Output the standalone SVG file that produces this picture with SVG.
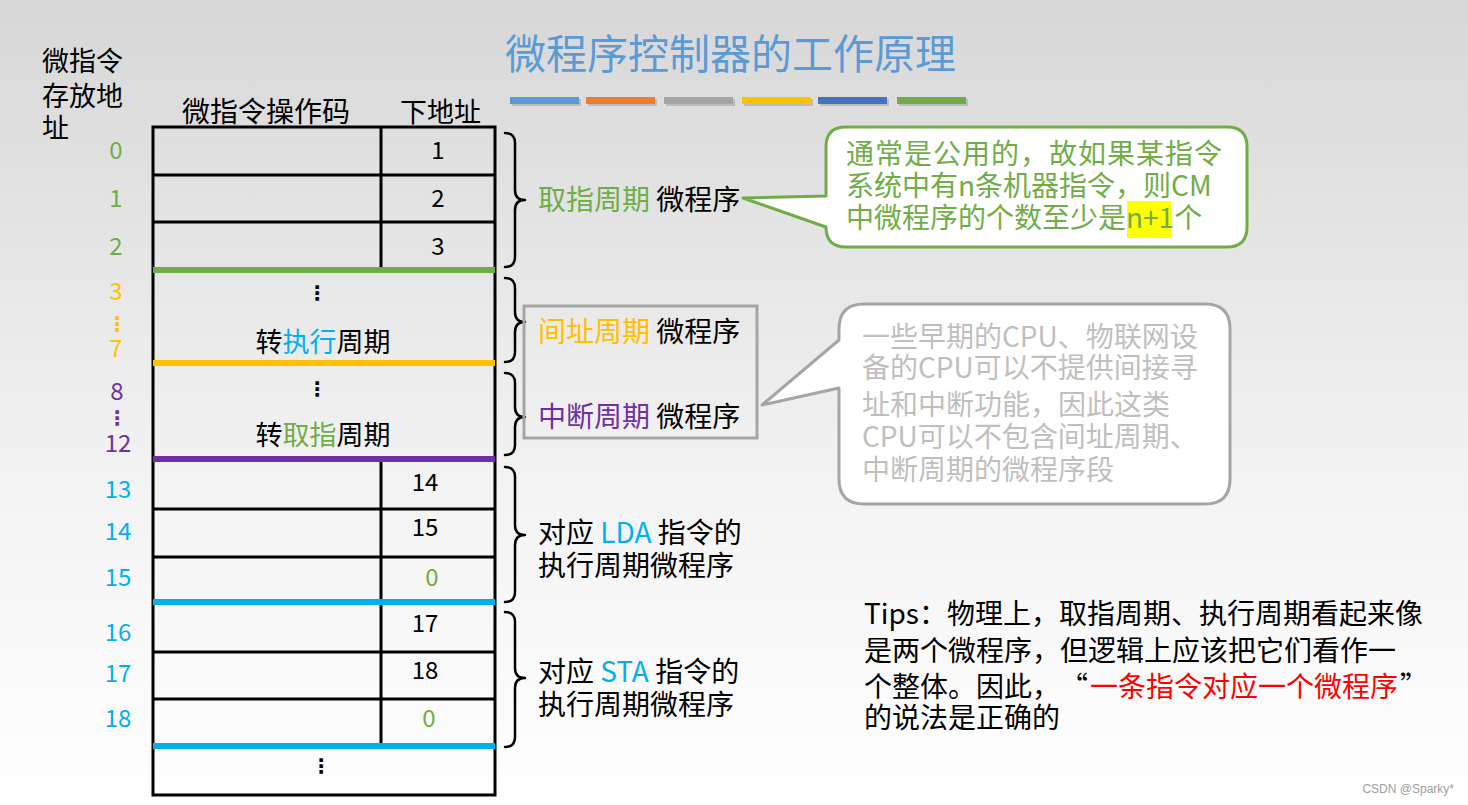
<svg xmlns="http://www.w3.org/2000/svg" width="1468" height="805" viewBox="0 0 1468 805">
<defs>
<linearGradient id="bg" x1="0" y1="0" x2="0" y2="1">
<stop offset="0" stop-color="#d7d7d7"/>
<stop offset="0.6" stop-color="#f3f3f3"/>
<stop offset="1" stop-color="#ffffff"/>
</linearGradient>
<style>
.t{font-family:"Noto Sans CJK SC","Noto Sans",sans-serif;}
.k{fill:#000;}
.n{font-size:24px;text-anchor:middle;}
.lb{font-size:28px;}
.grn{fill:#70ad47;}
.yel{fill:#ffc000;}
.pur{fill:#7030a0;}
.cyn{fill:#00b0f0;}
.dots{font-family:"DejaVu Sans",sans-serif;font-size:20px;font-weight:bold;text-anchor:middle;}
.line{stroke:#000;stroke-width:3;fill:none;}
.brace{stroke:#000;stroke-width:2.5;fill:none;stroke-linecap:round;stroke-linejoin:round;}
</style>
</defs>
<rect x="0" y="0" width="1468" height="805" fill="url(#bg)"/>

<g id="title">
<text class="t" x="505" y="69" font-size="41" fill="#5b9bd5">微程序控制器的工作原理</text>
<g id="bars">
<rect x="512" y="99" width="69" height="7" fill="#000" opacity="0.15"/>
<rect x="588" y="99" width="69" height="7" fill="#000" opacity="0.15"/>
<rect x="666" y="99" width="69" height="7" fill="#000" opacity="0.15"/>
<rect x="744" y="99" width="69" height="7" fill="#000" opacity="0.15"/>
<rect x="820" y="99" width="69" height="7" fill="#000" opacity="0.15"/>
<rect x="899" y="99" width="69" height="7" fill="#000" opacity="0.15"/>
<rect x="510" y="97" width="69" height="7" fill="#5b9bd5"/>
<rect x="586" y="97" width="69" height="7" fill="#ed7d31"/>
<rect x="664" y="97" width="69" height="7" fill="#a5a5a5"/>
<rect x="742" y="97" width="69" height="7" fill="#ffc000"/>
<rect x="818" y="97" width="69" height="7" fill="#4472c4"/>
<rect x="897" y="97" width="69" height="7" fill="#70ad47"/>
</g>
</g>

<g id="headers" class="t k" font-size="27">
<text x="42" y="71">微指令</text>
<text x="42" y="106">存放地</text>
<text x="42" y="138">址</text>
<text x="182" y="122" font-size="28">微指令操作码</text>
<text x="400" y="122">下地址</text>
</g>

<g id="table">
<rect x="153" y="127" width="342" height="668" class="line"/>
<line x1="153" y1="175" x2="495" y2="175" class="line"/>
<line x1="153" y1="222" x2="495" y2="222" class="line"/>
<line x1="381" y1="127" x2="381" y2="268" class="line"/>
<line x1="153" y1="509" x2="495" y2="509" class="line"/>
<line x1="153" y1="557" x2="495" y2="557" class="line"/>
<line x1="153" y1="652" x2="495" y2="652" class="line"/>
<line x1="153" y1="699" x2="495" y2="699" class="line"/>
<line x1="381" y1="461" x2="381" y2="744" class="line"/>
<rect x="153" y="267" width="342" height="6" fill="#70ad47"/>
<rect x="153" y="360" width="342" height="6" fill="#ffc000"/>
<rect x="153" y="456" width="342" height="6" fill="#7030a0"/>
<rect x="153" y="599" width="342" height="6" fill="#00b0f0"/>
<rect x="153" y="743" width="342" height="6" fill="#00b0f0"/>
<g class="t k n">
<text x="438" y="159">1</text>
<text x="438" y="207">2</text>
<text x="438" y="255">3</text>
<text x="425" y="491">14</text>
<text x="425" y="536">15</text>
<text x="432" y="586" class="grn">0</text>
<text x="425" y="632">17</text>
<text x="425" y="679">18</text>
<text x="429" y="727" class="grn">0</text>
</g>
<text class="dots k" x="317" y="300">⋮</text>
<text class="t k" x="323" y="352" font-size="27" text-anchor="middle">转<tspan class="cyn">执行</tspan>周期</text>
<text class="dots k" x="317" y="396">⋮</text>
<text class="t k" x="323" y="445" font-size="27" text-anchor="middle">转<tspan class="grn">取指</tspan>周期</text>
<text class="dots k" x="321" y="773">⋮</text>
</g>

<g id="addresses" class="t n">
<text x="116" y="159" class="grn">0</text>
<text x="116" y="207" class="grn">1</text>
<text x="116" y="255" class="grn">2</text>
<text x="116" y="300" class="yel">3</text>
<text x="117" y="331" class="dots yel" font-size="17">⋮</text>
<text x="116" y="357" class="yel">7</text>
<text x="117" y="400" class="pur">8</text>
<text x="117" y="425" class="dots pur" font-size="17">⋮</text>
<text x="118" y="452" class="pur">12</text>
<text x="118" y="498" class="cyn">13</text>
<text x="118" y="540" class="cyn">14</text>
<text x="118" y="586" class="cyn">15</text>
<text x="118" y="641" class="cyn">16</text>
<text x="118" y="682" class="cyn">17</text>
<text x="118" y="727" class="cyn">18</text>
</g>

<g id="connectors">
<path class="brace" d="M505 133 Q515 133 515 143 V190 Q515 200 525 200 Q515 200 515 210 V257 Q515 267 505 267"/>
<path class="brace" d="M505 278 Q515 278 515 288 V312 Q515 322 525 322 Q515 322 515 332 V352 Q515 362 505 362"/>
<path class="brace" d="M505 373 Q515 373 515 383 V407 Q515 417 525 417 Q515 417 515 427 V445 Q515 455 505 455"/>
<path class="brace" d="M505 467 Q515 467 515 477 V525 Q515 535 525 535 Q515 535 515 545 V592 Q515 602 505 602"/>
<path class="brace" d="M505 612 Q515 612 515 622 V668 Q515 678 525 678 Q515 678 515 688 V737 Q515 747 505 747"/>
</g>

<g id="label-fetch">
<text class="t lb k" x="538" y="210"><tspan class="grn">取指周期</tspan> 微程序</text>
</g>
<g id="label-box">
<rect x="524" y="306" width="233" height="132" fill="none" stroke="#a5a5a5" stroke-width="3"/>
<text class="t lb k" x="538" y="342"><tspan class="yel">间址周期</tspan> 微程序</text>
<text class="t lb k" x="538" y="427"><tspan class="pur">中断周期</tspan> 微程序</text>
</g>
<g id="label-lda" class="t lb k">
<text x="538" y="543">对应 <tspan class="cyn">LDA</tspan> 指令的</text>
<text x="538" y="576">执行周期微程序</text>
</g>
<g id="label-sta" class="t lb k">
<text x="538" y="682">对应 <tspan class="cyn">STA</tspan> 指令的</text>
<text x="538" y="715">执行周期微程序</text>
</g>

<g id="callout-green">
<path d="M846 127 H1227 Q1247 127 1247 147 V227 Q1247 247 1227 247 H846 Q826 247 826 227 L743 198 L826 196 V147 Q826 127 846 127 Z" fill="#ffffff" stroke="#70ad47" stroke-width="3" stroke-linejoin="round"/>
<rect x="1127" y="201" width="44" height="37" fill="#ffff00"/>
<g class="t lb grn">
<text x="846" y="164" letter-spacing="1">通常是公用的，故如果某指令</text>
<text x="846" y="196">系统中有n条机器指令，则CM</text>
<text x="846" y="228">中微程序的个数至少是n+1个</text>
</g>
</g>

<g id="callout-gray">
<path d="M864 304 H1205 Q1230 304 1230 329 V479 Q1230 504 1205 504 H864 Q839 504 839 479 V388 L762 405 L839 340 V329 Q839 304 864 304 Z" fill="#ffffff" stroke="#a5a5a5" stroke-width="3" stroke-linejoin="round"/>
<g class="t lb" fill="#bfbfbf">
<text x="862" y="347">一些早期的CPU、物联网设</text>
<text x="862" y="378">备的CPU可以不提供间接寻</text>
<text x="862" y="415">址和中断功能，因此这类</text>
<text x="862" y="447">CPU可以不包含间址周期、</text>
<text x="862" y="480">中断周期的微程序段</text>
</g>
</g>

<g id="tips" class="t lb k">
<text x="864" y="624">Tips：物理上，取指周期、执行周期看起来像</text>
<text x="864" y="661">是两个微程序，但逻辑上应该把它们看作一</text>
<text x="864" y="697">个整体。因此，<tspan dx="14">“</tspan><tspan fill="#ff0000" dx="2">一条指令对应一个微程序</tspan><tspan dx="2">”</tspan></text>
<text x="864" y="728">的说法是正确的</text>
</g>

<text x="1454" y="793" font-family="Liberation Sans, sans-serif" font-size="12" fill="#a0a0a0" text-anchor="end">CSDN @Sparky*</text>
</svg>
